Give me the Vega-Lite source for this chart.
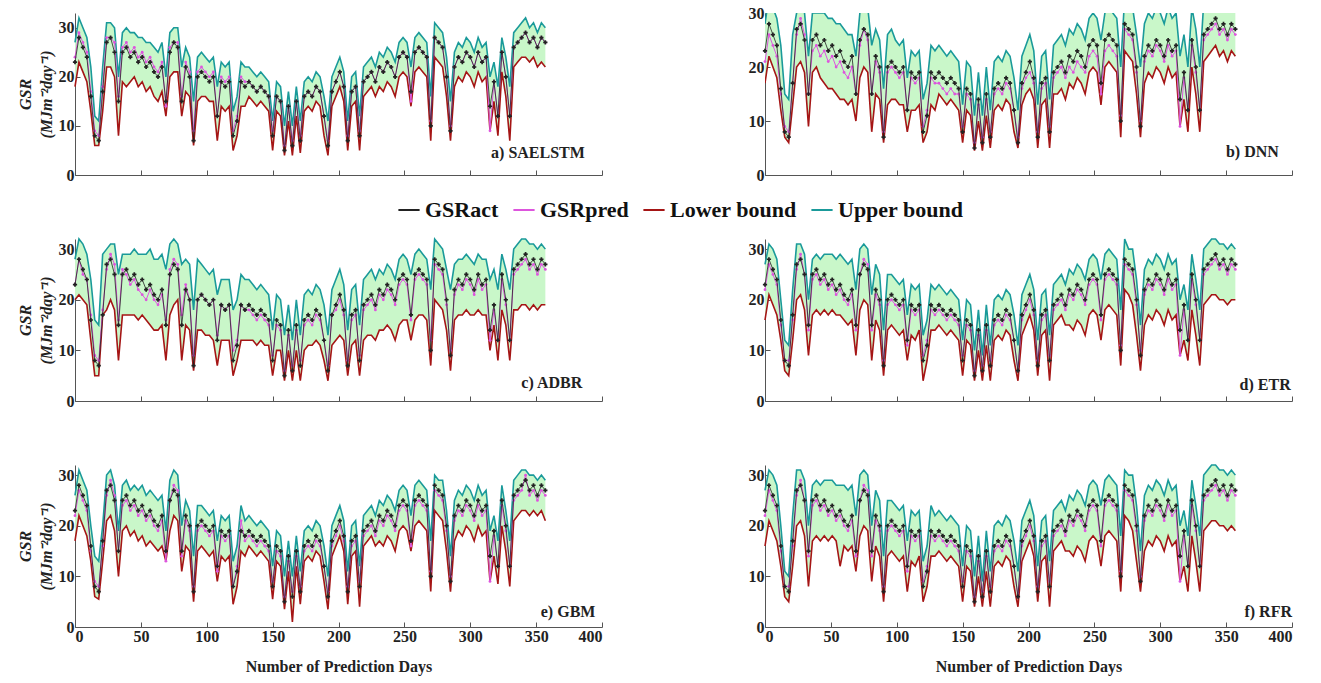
{
"$schema":"https://vega.github.io/schema/vega-lite/v6.json",
"background":"white",
"padding":{"left":17,"top":5,"right":5,"bottom":5},
"config":{"view":{"stroke":null},
"axis":{"grid":false,"labelFont":"Liberation Serif","labelFontWeight":"bold","labelFontSize":16,"labelColor":"#222","domainColor":"#555","tickColor":"#555","tickSize":-5,"labelPadding":6,"titleFont":"Liberation Serif","titleFontWeight":"bold","titleFontSize":16,"titleColor":"#222"},
"legend":{"orient":"none","legendX":322,"legendY":185,"direction":"horizontal","title":null,"symbolType":"stroke","symbolStrokeWidth":2,"symbolSize":450,"labelFont":"Liberation Serif","labelFontWeight":"bold","labelFontSize":22,"labelColor":"#111","columnPadding":10,"labelLimit":300}},
"datasets":{"t":[
{"d":0,"g":23,"ap":24,"al":18,"au":27,"bp":21,"bl":17,"bu":28,"cp":23,"cl":20,"cu":28,"dp":22,"dl":16,"du":27,"ep":22,"el":17,"eu":26,"fp":22,"fl":16,"fu":27},
{"d":3,"g":28,"ap":29,"al":23,"au":32,"bp":26,"bl":22,"bu":33,"cp":28,"cl":21,"cu":32,"dp":27,"dl":21,"du":31,"ep":27,"el":22,"eu":31,"fp":27,"fl":21,"fu":31},
{"d":6,"g":26,"ap":27,"al":21,"au":30,"bp":24,"bl":20,"bu":31,"cp":25,"cl":20,"cu":31,"dp":25,"dl":19,"du":30,"ep":25,"el":20,"eu":29,"fp":25,"fl":19,"fu":30},
{"d":9,"g":24,"ap":25,"al":19,"au":28,"bp":22,"bl":18,"bu":29,"cp":24,"cl":19,"cu":29,"dp":23,"dl":17,"du":28,"ep":23,"el":18,"eu":27,"fp":23,"fl":17,"fu":28},
{"d":12,"g":16,"ap":17,"al":13,"au":22,"bp":15,"bl":12,"bu":24,"cp":17,"cl":12,"cu":24,"dp":15,"dl":12,"du":20,"ep":15,"el":13,"eu":20,"fp":15,"fl":12,"fu":20},
{"d":15,"g":8,"ap":9,"al":6,"au":12,"bp":9,"bl":7,"bu":15,"cp":9,"cl":5,"cu":16,"dp":8,"dl":6,"du":12,"ep":9,"el":6,"eu":14,"fp":8,"fl":6,"fu":11},
{"d":18,"g":7,"ap":8,"al":6,"au":11,"bp":8,"bl":6,"bu":14,"cp":8,"cl":5,"cu":15,"dp":8,"dl":5,"du":11,"ep":8,"el":5.5,"eu":13,"fp":8,"fl":5,"fu":10},
{"d":21,"g":17,"ap":18,"al":13,"au":22,"bp":17,"bl":13,"bu":26,"cp":18,"cl":17,"cu":29,"dp":16,"dl":12,"du":22,"ep":16,"el":13,"eu":20,"fp":16,"fl":12,"fu":22},
{"d":24,"g":27,"ap":28,"al":22,"au":31,"bp":26,"bl":20,"bu":30,"cp":26,"cl":18,"cu":30,"dp":26,"dl":20,"du":31,"ep":26,"el":21,"eu":30,"fp":26,"fl":20,"fu":31},
{"d":27,"g":28,"ap":28,"al":22,"au":31,"bp":29,"bl":21,"bu":31,"cp":29,"cl":20,"cu":31,"dp":29,"dl":21,"du":31,"ep":29,"el":22,"eu":31,"fp":29,"fl":21,"fu":31},
{"d":30,"g":25,"ap":27,"al":20,"au":30,"bp":26,"bl":19,"bu":30,"cp":27,"cl":18,"cu":31,"dp":25,"dl":18,"du":29,"ep":26,"el":19,"eu":28,"fp":25,"fl":18,"fu":29},
{"d":33,"g":15,"ap":16,"al":8,"au":20,"bp":15,"bl":9,"bu":22,"cp":16,"cl":8,"cu":25,"dp":14,"dl":9,"du":20,"ep":15,"el":10,"eu":19,"fp":14,"fl":8,"fu":20},
{"d":36,"g":25,"ap":26,"al":19,"au":29,"bp":23,"bl":19,"bu":30,"cp":26,"cl":17,"cu":29,"dp":24,"dl":17,"du":28,"ep":24,"el":19,"eu":28,"fp":24,"fl":17,"fu":28},
{"d":39,"g":26,"ap":27,"al":18,"au":30,"bp":24,"bl":20,"bu":30,"cp":25,"cl":17,"cu":29,"dp":25,"dl":18,"du":29,"ep":25,"el":20,"eu":29,"fp":25,"fl":18,"fu":29},
{"d":42,"g":24,"ap":25,"al":19,"au":29,"bp":22,"bl":18,"bu":30,"cp":23,"cl":17,"cu":29,"dp":23,"dl":17,"du":28,"ep":23,"el":18,"eu":27,"fp":23,"fl":17,"fu":28},
{"d":45,"g":25,"ap":26,"al":20,"au":29,"bp":23,"bl":17,"bu":30,"cp":24,"cl":17,"cu":30,"dp":24,"dl":18,"du":29,"ep":24,"el":19,"eu":28,"fp":24,"fl":18,"fu":29},
{"d":48,"g":23,"ap":24,"al":18,"au":28,"bp":21,"bl":16,"bu":29,"cp":22,"cl":16,"cu":29,"dp":22,"dl":17,"du":29,"ep":22,"el":17,"eu":27,"fp":22,"fl":17,"fu":29},
{"d":51,"g":24,"ap":25,"al":19,"au":28,"bp":22,"bl":16,"bu":29,"cp":21,"cl":17,"cu":29,"dp":23,"dl":18,"du":29,"ep":23,"el":18,"eu":28,"fp":23,"fl":18,"fu":29},
{"d":54,"g":22,"ap":23,"al":17,"au":27,"bp":20,"bl":15,"bu":28,"cp":20,"cl":16,"cu":29,"dp":21,"dl":17,"du":28,"ep":21,"el":16,"eu":26,"fp":21,"fl":17,"fu":28},
{"d":57,"g":23,"ap":24,"al":18,"au":27,"bp":21,"bl":14,"bu":28,"cp":22,"cl":15,"cu":30,"dp":22,"dl":17,"du":29,"ep":22,"el":17,"eu":27,"fp":22,"fl":12,"fu":28},
{"d":60,"g":21,"ap":22,"al":16,"au":26,"bp":19,"bl":14,"bu":27,"cp":20,"cl":14,"cu":28,"dp":20,"dl":16,"du":28,"ep":20,"el":16,"eu":26,"fp":20,"fl":16,"fu":28},
{"d":63,"g":20,"ap":21,"al":15,"au":25,"bp":18,"bl":13,"bu":26,"cp":19,"cl":14,"cu":28,"dp":19,"dl":15,"du":27,"ep":19,"el":15,"eu":25,"fp":19,"fl":15,"fu":27},
{"d":66,"g":22,"ap":23,"al":17,"au":27,"bp":20,"bl":14,"bu":26,"cp":21,"cl":15,"cu":29,"dp":21,"dl":16,"du":28,"ep":21,"el":16,"eu":26,"fp":21,"fl":16,"fu":28},
{"d":69,"g":15,"ap":14,"al":12,"au":20,"bp":15,"bl":10,"bu":22,"cp":16,"cl":8,"cu":26,"dp":14,"dl":9,"du":22,"ep":13,"el":13,"eu":19,"fp":14,"fl":11,"fu":22},
{"d":72,"g":25,"ap":26,"al":20,"au":29,"bp":24,"bl":18,"bu":30,"cp":26,"cl":17,"cu":31,"dp":25,"dl":18,"du":30,"ep":25,"el":19,"eu":29,"fp":25,"fl":18,"fu":30},
{"d":75,"g":27,"ap":27,"al":21,"au":30,"bp":27,"bl":20,"bu":31,"cp":28,"cl":19,"cu":32,"dp":28,"dl":20,"du":31,"ep":28,"el":22,"eu":31,"fp":28,"fl":20,"fu":31},
{"d":78,"g":26,"ap":27,"al":21,"au":30,"bp":25,"bl":19,"bu":31,"cp":27,"cl":20,"cu":31,"dp":27,"dl":19,"du":30,"ep":27,"el":21,"eu":30,"fp":27,"fl":19,"fu":30},
{"d":81,"g":15,"ap":16,"al":12,"au":22,"bp":15,"bl":8,"bu":24,"cp":17,"cl":8,"cu":27,"dp":14,"dl":8,"du":21,"ep":14,"el":11,"eu":20,"fp":14,"fl":9,"fu":20},
{"d":84,"g":22,"ap":23,"al":17,"au":26,"bp":21,"bl":15,"bu":27,"cp":23,"cl":15,"cu":28,"dp":21,"dl":16,"du":27,"ep":21,"el":16,"eu":25,"fp":21,"fl":16,"fu":27},
{"d":87,"g":20,"ap":21,"al":16,"au":24,"bp":19,"bl":14,"bu":25,"cp":20,"cl":14,"cu":27,"dp":19,"dl":14,"du":25,"ep":19,"el":15,"eu":23,"fp":19,"fl":14,"fu":25},
{"d":90,"g":7,"ap":9,"al":6,"au":15,"bp":8,"bl":6,"bu":16,"cp":9,"cl":6,"cu":18,"dp":8,"dl":5,"du":14,"ep":8,"el":5,"eu":14,"fp":8,"fl":5,"fu":14},
{"d":93,"g":20,"ap":21,"al":15,"au":24,"bp":19,"bl":13,"bu":26,"cp":20,"cl":14,"cu":28,"dp":19,"dl":14,"du":25,"ep":19,"el":15,"eu":24,"fp":19,"fl":14,"fu":25},
{"d":96,"g":21,"ap":22,"al":16,"au":25,"bp":20,"bl":14,"bu":27,"cp":21,"cl":14,"cu":27,"dp":20,"dl":15,"du":25,"ep":20,"el":16,"eu":24,"fp":20,"fl":15,"fu":25},
{"d":99,"g":20,"ap":21,"al":16,"au":24,"bp":19,"bl":14,"bu":25,"cp":20,"cl":13,"cu":26,"dp":19,"dl":14,"du":24,"ep":19,"el":15,"eu":23,"fp":19,"fl":14,"fu":24},
{"d":102,"g":19,"ap":20,"al":15,"au":23,"bp":18,"bl":13,"bu":24,"cp":19,"cl":13,"cu":25,"dp":18,"dl":13,"du":23,"ep":18,"el":14,"eu":22,"fp":18,"fl":13,"fu":23},
{"d":105,"g":20,"ap":21,"al":15,"au":24,"bp":19,"bl":13,"bu":25,"cp":20,"cl":12,"cu":26,"dp":19,"dl":14,"du":24,"ep":19,"el":15,"eu":23,"fp":19,"fl":14,"fu":24},
{"d":108,"g":12,"ap":12,"al":7,"au":18,"bp":12,"bl":8,"bu":18,"cp":13,"cl":7,"cu":21,"dp":11,"dl":8,"du":17,"ep":11,"el":9,"eu":17,"fp":11,"fl":7,"fu":17},
{"d":111,"g":19,"ap":20,"al":14,"au":23,"bp":18,"bl":12,"bu":23,"cp":19,"cl":12,"cu":24,"dp":18,"dl":13,"du":23,"ep":18,"el":14,"eu":22,"fp":18,"fl":13,"fu":23},
{"d":114,"g":18,"ap":19,"al":13,"au":22,"bp":17,"bl":12,"bu":22,"cp":18,"cl":12,"cu":24,"dp":17,"dl":12,"du":22,"ep":17,"el":13,"eu":21,"fp":17,"fl":12,"fu":22},
{"d":117,"g":19,"ap":20,"al":14,"au":23,"bp":18,"bl":13,"bu":23,"cp":19,"cl":12,"cu":24,"dp":18,"dl":14,"du":23,"ep":18,"el":14,"eu":22,"fp":18,"fl":14,"fu":23},
{"d":120,"g":8,"ap":9,"al":5,"au":13,"bp":9,"bl":6,"bu":14,"cp":10,"cl":5,"cu":18,"dp":9,"dl":4,"du":13,"ep":8,"el":4.5,"eu":13,"fp":9,"fl":5,"fu":13},
{"d":123,"g":11,"ap":12,"al":8,"au":16,"bp":12,"bl":8,"bu":17,"cp":12,"cl":8,"cu":20,"dp":12,"dl":8,"du":16,"ep":12,"el":8,"eu":16,"fp":12,"fl":8,"fu":16},
{"d":126,"g":19,"ap":20,"al":14,"au":23,"bp":18,"bl":13,"bu":24,"cp":19,"cl":12,"cu":25,"dp":18,"dl":14,"du":23,"ep":21,"el":15,"eu":24,"fp":18,"fl":14,"fu":24},
{"d":129,"g":18,"ap":19,"al":14,"au":22,"bp":17,"bl":12,"bu":23,"cp":18,"cl":12,"cu":24,"dp":17,"dl":14,"du":22,"ep":17,"el":14,"eu":21,"fp":17,"fl":14,"fu":22},
{"d":132,"g":19,"ap":19,"al":16,"au":22,"bp":17,"bl":15,"bu":24,"cp":18,"cl":12,"cu":24,"dp":18,"dl":15,"du":23,"ep":18,"el":16,"eu":22,"fp":18,"fl":15,"fu":23},
{"d":135,"g":18,"ap":18,"al":15,"au":21,"bp":16,"bl":14,"bu":23,"cp":17,"cl":12,"cu":23,"dp":17,"dl":14,"du":22,"ep":17,"el":15,"eu":21,"fp":17,"fl":14,"fu":22},
{"d":138,"g":17,"ap":17,"al":14,"au":20,"bp":15,"bl":13,"bu":22,"cp":16,"cl":11,"cu":22,"dp":16,"dl":13,"du":21,"ep":16,"el":14,"eu":20,"fp":16,"fl":13,"fu":21},
{"d":141,"g":18,"ap":18,"al":15,"au":21,"bp":16,"bl":14,"bu":23,"cp":17,"cl":12,"cu":23,"dp":17,"dl":14,"du":22,"ep":17,"el":15,"eu":21,"fp":17,"fl":14,"fu":22},
{"d":144,"g":17,"ap":17,"al":14,"au":20,"bp":15,"bl":13,"bu":22,"cp":16,"cl":11,"cu":22,"dp":16,"dl":13,"du":21,"ep":16,"el":14,"eu":20,"fp":16,"fl":13,"fu":21},
{"d":147,"g":16,"ap":16,"al":13,"au":19,"bp":15,"bl":12,"bu":21,"cp":15,"cl":11,"cu":21,"dp":15,"dl":12,"du":20,"ep":15,"el":13,"eu":19,"fp":15,"fl":12,"fu":20},
{"d":150,"g":8,"ap":9,"al":5,"au":11,"bp":9,"bl":6,"bu":13,"cp":9,"cl":5,"cu":14,"dp":9,"dl":5,"du":12,"ep":9,"el":5.5,"eu":12,"fp":9,"fl":5,"fu":12},
{"d":153,"g":16,"ap":16,"al":13,"au":19,"bp":15,"bl":12,"bu":21,"cp":15,"cl":10,"cu":21,"dp":15,"dl":12,"du":20,"ep":15,"el":13,"eu":19,"fp":15,"fl":12,"fu":20},
{"d":156,"g":15,"ap":15,"al":12,"au":18,"bp":14,"bl":11,"bu":20,"cp":14,"cl":10,"cu":20,"dp":14,"dl":11,"du":19,"ep":14,"el":12,"eu":18,"fp":14,"fl":11,"fu":19},
{"d":159,"g":5,"ap":6,"al":4,"au":10,"bp":6,"bl":4.5,"bu":11,"cp":6,"cl":4,"cu":13,"dp":6,"dl":4,"du":10,"ep":6,"el":3.5,"eu":10,"fp":6,"fl":4,"fu":10},
{"d":162,"g":14,"ap":14,"al":11,"au":17,"bp":13,"bl":10,"bu":19,"cp":13,"cl":10,"cu":19,"dp":13,"dl":10,"du":18,"ep":13,"el":11,"eu":17,"fp":13,"fl":10,"fu":18},
{"d":165,"g":6,"ap":7,"al":4,"au":10,"bp":7,"bl":4.5,"bu":11,"cp":7,"cl":4,"cu":12,"dp":7,"dl":4,"du":9,"ep":7,"el":1,"eu":10,"fp":7,"fl":4,"fu":9},
{"d":168,"g":15,"ap":15,"al":12,"au":18,"bp":14,"bl":11,"bu":20,"cp":14,"cl":10,"cu":20,"dp":14,"dl":11,"du":19,"ep":14,"el":12,"eu":18,"fp":14,"fl":11,"fu":19},
{"d":171,"g":7,"ap":8,"al":4.5,"au":11,"bp":8,"bl":5,"bu":12,"cp":8,"cl":4,"cu":13,"dp":8,"dl":4,"du":11,"ep":8,"el":4.5,"eu":11,"fp":8,"fl":4,"fu":11},
{"d":174,"g":16,"ap":16,"al":13,"au":19,"bp":15,"bl":12,"bu":21,"cp":15,"cl":10,"cu":21,"dp":15,"dl":12,"du":20,"ep":15,"el":13,"eu":19,"fp":15,"fl":12,"fu":20},
{"d":177,"g":17,"ap":17,"al":14,"au":20,"bp":16,"bl":13,"bu":22,"cp":16,"cl":11,"cu":22,"dp":16,"dl":13,"du":21,"ep":16,"el":14,"eu":20,"fp":16,"fl":13,"fu":21},
{"d":180,"g":16,"ap":16,"al":13,"au":19,"bp":15,"bl":12,"bu":21,"cp":15,"cl":11,"cu":21,"dp":15,"dl":12,"du":20,"ep":15,"el":13,"eu":19,"fp":15,"fl":12,"fu":20},
{"d":183,"g":18,"ap":18,"al":15,"au":21,"bp":17,"bl":14,"bu":23,"cp":17,"cl":12,"cu":23,"dp":17,"dl":14,"du":22,"ep":17,"el":15,"eu":21,"fp":17,"fl":14,"fu":22},
{"d":186,"g":17,"ap":17,"al":14,"au":20,"bp":16,"bl":13,"bu":22,"cp":16,"cl":11,"cu":22,"dp":16,"dl":13,"du":21,"ep":16,"el":14,"eu":20,"fp":16,"fl":13,"fu":21},
{"d":189,"g":12,"ap":12,"al":8,"au":16,"bp":12,"bl":8,"bu":18,"cp":12,"cl":8,"cu":19,"dp":12,"dl":8,"du":17,"ep":12,"el":9,"eu":16,"fp":12,"fl":8,"fu":17},
{"d":192,"g":6,"ap":7,"al":4,"au":11,"bp":7,"bl":5,"bu":12,"cp":7,"cl":4,"cu":13,"dp":6,"dl":4,"du":11,"ep":7,"el":3.5,"eu":10,"fp":6,"fl":4,"fu":11},
{"d":195,"g":17,"ap":17,"al":14,"au":20,"bp":16,"bl":13,"bu":22,"cp":17,"cl":11,"cu":22,"dp":16,"dl":13,"du":21,"ep":16,"el":14,"eu":20,"fp":16,"fl":13,"fu":21},
{"d":198,"g":19,"ap":19,"al":16,"au":22,"bp":18,"bl":15,"bu":24,"cp":18,"cl":12,"cu":24,"dp":18,"dl":15,"du":23,"ep":18,"el":16,"eu":22,"fp":18,"fl":15,"fu":23},
{"d":201,"g":21,"ap":21,"al":18,"au":24,"bp":19,"bl":16,"bu":26,"cp":20,"cl":13,"cu":26,"dp":20,"dl":17,"du":25,"ep":20,"el":18,"eu":24,"fp":20,"fl":17,"fu":25},
{"d":204,"g":18,"ap":18,"al":15,"au":21,"bp":17,"bl":14,"bu":23,"cp":17,"cl":12,"cu":23,"dp":17,"dl":14,"du":22,"ep":17,"el":15,"eu":21,"fp":17,"fl":14,"fu":22},
{"d":207,"g":7,"ap":8,"al":5,"au":11,"bp":8,"bl":5,"bu":13,"cp":8,"cl":5,"cu":14,"dp":8,"dl":5,"du":12,"ep":8,"el":4.5,"eu":11,"fp":8,"fl":5,"fu":12},
{"d":210,"g":17,"ap":17,"al":14,"au":20,"bp":16,"bl":13,"bu":22,"cp":16,"cl":11,"cu":22,"dp":16,"dl":13,"du":21,"ep":16,"el":14,"eu":20,"fp":16,"fl":13,"fu":21},
{"d":213,"g":18,"ap":18,"al":15,"au":21,"bp":17,"bl":14,"bu":23,"cp":17,"cl":12,"cu":23,"dp":17,"dl":14,"du":22,"ep":17,"el":15,"eu":21,"fp":17,"fl":14,"fu":22},
{"d":216,"g":8,"ap":9,"al":5,"au":12,"bp":9,"bl":5,"bu":14,"cp":9,"cl":5,"cu":15,"dp":9,"dl":4,"du":13,"ep":9,"el":4,"eu":12,"fp":9,"fl":4,"fu":13},
{"d":219,"g":19,"ap":19,"al":16,"au":22,"bp":18,"bl":15,"bu":24,"cp":18,"cl":12,"cu":24,"dp":18,"dl":15,"du":23,"ep":18,"el":16,"eu":22,"fp":18,"fl":15,"fu":23},
{"d":222,"g":20,"ap":20,"al":17,"au":23,"bp":19,"bl":15,"bu":25,"cp":19,"cl":13,"cu":25,"dp":19,"dl":16,"du":24,"ep":19,"el":17,"eu":23,"fp":19,"fl":16,"fu":24},
{"d":225,"g":21,"ap":21,"al":18,"au":24,"bp":20,"bl":16,"bu":26,"cp":20,"cl":13,"cu":26,"dp":20,"dl":17,"du":25,"ep":20,"el":18,"eu":24,"fp":20,"fl":17,"fu":25},
{"d":228,"g":19,"ap":19,"al":16,"au":22,"bp":18,"bl":14,"bu":24,"cp":18,"cl":12,"cu":24,"dp":18,"dl":15,"du":23,"ep":18,"el":16,"eu":22,"fp":18,"fl":15,"fu":23},
{"d":231,"g":22,"ap":22,"al":18,"au":25,"bp":20,"bl":17,"bu":27,"cp":21,"cl":14,"cu":26,"dp":21,"dl":15,"du":26,"ep":21,"el":17,"eu":25,"fp":21,"fl":15,"fu":26},
{"d":234,"g":21,"ap":21,"al":17,"au":24,"bp":19,"bl":16,"bu":26,"cp":20,"cl":14,"cu":25,"dp":20,"dl":14,"du":25,"ep":20,"el":16,"eu":24,"fp":20,"fl":14,"fu":25},
{"d":237,"g":23,"ap":23,"al":19,"au":26,"bp":21,"bl":18,"bu":28,"cp":22,"cl":15,"cu":27,"dp":22,"dl":16,"du":27,"ep":22,"el":18,"eu":26,"fp":22,"fl":16,"fu":27},
{"d":240,"g":22,"ap":22,"al":18,"au":25,"bp":20,"bl":17,"bu":27,"cp":21,"cl":14,"cu":26,"dp":21,"dl":15,"du":26,"ep":21,"el":17,"eu":25,"fp":21,"fl":15,"fu":26},
{"d":243,"g":20,"ap":20,"al":16,"au":23,"bp":19,"bl":15,"bu":25,"cp":19,"cl":12,"cu":24,"dp":19,"dl":13,"du":24,"ep":19,"el":15,"eu":23,"fp":19,"fl":13,"fu":24},
{"d":246,"g":24,"ap":24,"al":20,"au":27,"bp":22,"bl":19,"bu":29,"cp":23,"cl":15,"cu":28,"dp":23,"dl":17,"du":28,"ep":23,"el":19,"eu":27,"fp":23,"fl":17,"fu":28},
{"d":249,"g":25,"ap":25,"al":21,"au":28,"bp":23,"bl":20,"bu":30,"cp":24,"cl":16,"cu":29,"dp":24,"dl":18,"du":29,"ep":24,"el":20,"eu":28,"fp":24,"fl":18,"fu":29},
{"d":252,"g":24,"ap":24,"al":20,"au":27,"bp":22,"bl":19,"bu":29,"cp":23,"cl":16,"cu":28,"dp":23,"dl":17,"du":28,"ep":23,"el":19,"eu":27,"fp":23,"fl":17,"fu":28},
{"d":255,"g":17,"ap":15,"al":14,"au":22,"bp":15,"bl":13,"bu":25,"cp":16,"cl":12,"cu":25,"dp":16,"dl":12,"du":24,"ep":16,"el":15,"eu":22,"fp":16,"fl":12,"fu":24},
{"d":258,"g":25,"ap":25,"al":21,"au":28,"bp":23,"bl":20,"bu":30,"cp":24,"cl":16,"cu":29,"dp":24,"dl":18,"du":29,"ep":24,"el":20,"eu":28,"fp":24,"fl":18,"fu":29},
{"d":261,"g":26,"ap":26,"al":22,"au":29,"bp":24,"bl":21,"bu":31,"cp":25,"cl":17,"cu":30,"dp":25,"dl":19,"du":30,"ep":25,"el":21,"eu":29,"fp":25,"fl":19,"fu":30},
{"d":264,"g":25,"ap":25,"al":21,"au":28,"bp":23,"bl":20,"bu":30,"cp":24,"cl":17,"cu":29,"dp":24,"dl":18,"du":29,"ep":24,"el":20,"eu":28,"fp":24,"fl":18,"fu":29},
{"d":267,"g":24,"ap":24,"al":20,"au":27,"bp":22,"bl":19,"bu":29,"cp":23,"cl":16,"cu":28,"dp":23,"dl":17,"du":28,"ep":23,"el":19,"eu":27,"fp":23,"fl":17,"fu":28},
{"d":270,"g":10,"ap":11,"al":7,"au":16,"bp":11,"bl":7,"bu":20,"cp":12,"cl":7,"cu":22,"dp":11,"dl":7,"du":18,"ep":11,"el":7,"eu":17,"fp":11,"fl":7,"fu":18},
{"d":273,"g":28,"ap":28,"al":24,"au":31,"bp":27,"bl":23,"bu":33,"cp":27,"cl":20,"cu":32,"dp":27,"dl":22,"du":32,"ep":27,"el":23,"eu":30,"fp":27,"fl":22,"fu":31},
{"d":276,"g":27,"ap":27,"al":23,"au":30,"bp":26,"bl":22,"bu":32,"cp":26,"cl":19,"cu":31,"dp":26,"dl":21,"du":30,"ep":26,"el":22,"eu":29,"fp":26,"fl":21,"fu":30},
{"d":279,"g":26,"ap":26,"al":22,"au":29,"bp":25,"bl":21,"bu":31,"cp":25,"cl":18,"cu":30,"dp":25,"dl":19,"du":30,"ep":25,"el":21,"eu":29,"fp":25,"fl":19,"fu":30},
{"d":282,"g":20,"ap":20,"al":16,"au":24,"bp":19,"bl":15,"bu":26,"cp":19,"cl":14,"cu":26,"dp":19,"dl":13,"du":24,"ep":19,"el":15,"eu":23,"fp":19,"fl":13,"fu":24},
{"d":285,"g":9,"ap":10,"al":7,"au":15,"bp":10,"bl":7,"bu":20,"cp":10,"cl":6,"cu":22,"dp":10,"dl":6,"du":15,"ep":10,"el":7,"eu":14,"fp":10,"fl":7,"fu":15},
{"d":288,"g":22,"ap":22,"al":18,"au":25,"bp":21,"bl":17,"bu":28,"cp":21,"cl":16,"cu":27,"dp":21,"dl":15,"du":26,"ep":21,"el":17,"eu":25,"fp":21,"fl":15,"fu":26},
{"d":291,"g":24,"ap":24,"al":20,"au":27,"bp":23,"bl":19,"bu":30,"cp":23,"cl":17,"cu":28,"dp":23,"dl":17,"du":28,"ep":23,"el":19,"eu":27,"fp":23,"fl":17,"fu":28},
{"d":294,"g":23,"ap":23,"al":19,"au":26,"bp":22,"bl":18,"bu":29,"cp":22,"cl":17,"cu":28,"dp":22,"dl":16,"du":27,"ep":22,"el":18,"eu":26,"fp":22,"fl":16,"fu":27},
{"d":297,"g":25,"ap":25,"al":21,"au":28,"bp":24,"bl":20,"bu":31,"cp":24,"cl":18,"cu":29,"dp":24,"dl":18,"du":29,"ep":24,"el":20,"eu":28,"fp":24,"fl":18,"fu":29},
{"d":300,"g":24,"ap":24,"al":20,"au":27,"bp":23,"bl":19,"bu":30,"cp":23,"cl":17,"cu":28,"dp":23,"dl":17,"du":28,"ep":23,"el":19,"eu":27,"fp":23,"fl":17,"fu":28},
{"d":303,"g":22,"ap":22,"al":18,"au":25,"bp":21,"bl":17,"bu":28,"cp":21,"cl":17,"cu":27,"dp":21,"dl":15,"du":26,"ep":21,"el":17,"eu":25,"fp":21,"fl":15,"fu":26},
{"d":306,"g":25,"ap":25,"al":21,"au":28,"bp":24,"bl":20,"bu":31,"cp":24,"cl":18,"cu":29,"dp":24,"dl":18,"du":29,"ep":24,"el":20,"eu":28,"fp":24,"fl":18,"fu":29},
{"d":309,"g":23,"ap":23,"al":19,"au":26,"bp":22,"bl":18,"bu":29,"cp":22,"cl":17,"cu":28,"dp":22,"dl":16,"du":27,"ep":22,"el":18,"eu":26,"fp":22,"fl":16,"fu":27},
{"d":312,"g":24,"ap":24,"al":20,"au":27,"bp":23,"bl":19,"bu":30,"cp":23,"cl":17,"cu":28,"dp":23,"dl":17,"du":28,"ep":23,"el":19,"eu":27,"fp":23,"fl":17,"fu":28},
{"d":315,"g":14,"ap":9,"al":9,"au":20,"bp":9,"bl":9,"bu":22,"cp":12,"cl":10,"cu":24,"dp":9,"dl":9,"du":20,"ep":9,"el":9,"eu":19,"fp":9,"fl":9,"fu":20},
{"d":318,"g":19,"ap":19,"al":15,"au":23,"bp":18,"bl":14,"bu":26,"cp":18,"cl":15,"cu":26,"dp":18,"dl":12,"du":23,"ep":18,"el":14,"eu":22,"fp":18,"fl":12,"fu":23},
{"d":321,"g":12,"ap":12,"al":8,"au":18,"bp":12,"bl":8,"bu":20,"cp":12,"cl":8,"cu":22,"dp":12,"dl":8,"du":18,"ep":12,"el":8.5,"eu":17,"fp":12,"fl":7,"fu":18},
{"d":324,"g":25,"ap":25,"al":21,"au":28,"bp":24,"bl":20,"bu":31,"cp":24,"cl":18,"cu":29,"dp":24,"dl":18,"du":29,"ep":24,"el":20,"eu":28,"fp":24,"fl":18,"fu":29},
{"d":327,"g":20,"ap":20,"al":16,"au":24,"bp":19,"bl":15,"bu":27,"cp":19,"cl":15,"cu":26,"dp":19,"dl":13,"du":24,"ep":19,"el":15,"eu":23,"fp":19,"fl":13,"fu":24},
{"d":330,"g":12,"ap":12,"al":7,"au":18,"bp":12,"bl":8,"bu":20,"cp":12,"cl":8,"cu":22,"dp":12,"dl":7,"du":18,"ep":12,"el":8,"eu":17,"fp":12,"fl":7,"fu":18},
{"d":333,"g":26,"ap":26,"al":22,"au":29,"bp":25,"bl":21,"bu":32,"cp":25,"cl":18,"cu":30,"dp":25,"dl":19,"du":30,"ep":25,"el":21,"eu":29,"fp":25,"fl":19,"fu":30},
{"d":336,"g":27,"ap":27,"al":23,"au":30,"bp":26,"bl":22,"bu":33,"cp":26,"cl":18,"cu":31,"dp":26,"dl":20,"du":31,"ep":26,"el":22,"eu":30,"fp":26,"fl":20,"fu":31},
{"d":339,"g":28,"ap":28,"al":24,"au":31,"bp":27,"bl":23,"bu":33,"cp":27,"cl":19,"cu":32,"dp":27,"dl":21,"du":32,"ep":27,"el":23,"eu":31,"fp":27,"fl":21,"fu":32},
{"d":342,"g":29,"ap":29,"al":24,"au":32,"bp":28,"bl":24,"bu":34,"cp":28,"cl":19,"cu":32,"dp":28,"dl":21,"du":32,"ep":30,"el":23,"eu":31,"fp":28,"fl":21,"fu":32},
{"d":345,"g":27,"ap":27,"al":23,"au":30,"bp":26,"bl":22,"bu":33,"cp":26,"cl":18,"cu":31,"dp":26,"dl":20,"du":31,"ep":26,"el":22,"eu":30,"fp":26,"fl":20,"fu":31},
{"d":348,"g":28,"ap":28,"al":24,"au":31,"bp":27,"bl":23,"bu":33,"cp":27,"cl":19,"cu":31,"dp":27,"dl":20,"du":31,"ep":27,"el":23,"eu":30,"fp":27,"fl":20,"fu":31},
{"d":351,"g":26,"ap":26,"al":22,"au":29,"bp":25,"bl":21,"bu":32,"cp":25,"cl":18,"cu":30,"dp":25,"dl":19,"du":30,"ep":25,"el":22,"eu":29,"fp":25,"fl":19,"fu":30},
{"d":354,"g":28,"ap":28,"al":23,"au":31,"bp":27,"bl":23,"bu":33,"cp":27,"cl":19,"cu":31,"dp":27,"dl":20,"du":31,"ep":27,"el":23,"eu":30,"fp":27,"fl":20,"fu":31},
{"d":357,"g":27,"ap":27,"al":22,"au":30,"bp":26,"bl":22,"bu":32,"cp":26,"cl":19,"cu":30,"dp":26,"dl":20,"du":30,"ep":26,"el":21,"eu":29,"fp":26,"fl":19,"fu":30}
]},
"spacing":52,
"vconcat":[
{"hconcat":[
{"width":527,"height":162,"data":{"name":"t"},
"encoding":{"x":{"field":"d","type":"quantitative","scale":{"domain":[0,400],"nice":false},"axis":{"values":[0,50,100,150,200,250,300,350,400],"labels":false,"title":null}}},
"layer":[
{"mark":{"type":"area","color":"#c9f7c9"},"encoding":{"y":{"field":"al","type":"quantitative","scale":{"domain":[0,33],"nice":false},"axis":{"values":[0,10,20,30],"title":["GSR","(MJm⁻²day⁻¹)"],"titleFontStyle":"italic","titlePadding":4,"titleLineHeight":21}},"y2":{"field":"au"}}},
{"mark":{"type":"line","strokeWidth":1.6},"encoding":{"y":{"field":"al","type":"quantitative"},"color":{"datum":"Lower bound","scale":{"domain":["GSRact","GSRpred","Lower bound","Upper bound"],"range":["#222222","#dd55dd","#a51515","#1a9a9a"]}}}},
{"mark":{"type":"line","strokeWidth":1.6},"encoding":{"y":{"field":"au","type":"quantitative"},"color":{"datum":"Upper bound"}}},
{"mark":{"type":"line","strokeWidth":1,"point":{"size":8,"filled":true}},"encoding":{"y":{"field":"ap","type":"quantitative"},"color":{"datum":"GSRpred"}}},
{"mark":{"type":"line","strokeWidth":0.8,"point":{"shape":"cross","size":18,"filled":true}},"encoding":{"y":{"field":"g","type":"quantitative"},"color":{"datum":"GSRact"}}},
{"data":{"values":[{"lab":"a) SAELSTM","x":387,"y":4.5}]},"mark":{"type":"text","font":"Liberation Serif","fontWeight":"bold","fontSize":16,"align":"right","baseline":"middle","color":"#222"},"encoding":{"x":{"field":"x","type":"quantitative"},"y":{"field":"y","type":"quantitative"},"text":{"field":"lab"}}}
]},
{"width":527,"height":162,"data":{"name":"t"},
"encoding":{"x":{"field":"d","type":"quantitative","scale":{"domain":[0,400],"nice":false},"axis":{"values":[0,50,100,150,200,250,300,350,400],"labels":false,"title":null}}},
"layer":[
{"mark":{"type":"area","color":"#c9f7c9","clip":true},"encoding":{"y":{"field":"bl","type":"quantitative","scale":{"domain":[0,30],"nice":false},"axis":{"values":[0,10,20,30],"title":null}},"y2":{"field":"bu"}}},
{"mark":{"type":"line","strokeWidth":1.6,"clip":true},"encoding":{"y":{"field":"bl","type":"quantitative"},"color":{"datum":"Lower bound"}}},
{"mark":{"type":"line","strokeWidth":1.6,"clip":true},"encoding":{"y":{"field":"bu","type":"quantitative"},"color":{"datum":"Upper bound"}}},
{"mark":{"type":"line","strokeWidth":1,"point":{"size":8,"filled":true}},"encoding":{"y":{"field":"bp","type":"quantitative"},"color":{"datum":"GSRpred"}}},
{"mark":{"type":"line","strokeWidth":0.8,"point":{"shape":"cross","size":18,"filled":true}},"encoding":{"y":{"field":"g","type":"quantitative"},"color":{"datum":"GSRact"}}},
{"data":{"values":[{"lab":"b) DNN","x":390,"y":4.3}]},"mark":{"type":"text","font":"Liberation Serif","fontWeight":"bold","fontSize":16,"align":"right","baseline":"middle","color":"#222"},"encoding":{"x":{"field":"x","type":"quantitative"},"y":{"field":"y","type":"quantitative"},"text":{"field":"lab"}}}
]}
],"spacing":145},
{"hconcat":[
{"width":527,"height":162,"data":{"name":"t"},
"encoding":{"x":{"field":"d","type":"quantitative","scale":{"domain":[0,400],"nice":false},"axis":{"values":[0,50,100,150,200,250,300,350,400],"labels":false,"title":null}}},
"layer":[
{"mark":{"type":"area","color":"#c9f7c9"},"encoding":{"y":{"field":"cl","type":"quantitative","scale":{"domain":[0,32],"nice":false},"axis":{"values":[0,10,20,30],"title":["GSR","(MJm⁻²day⁻¹)"],"titleFontStyle":"italic","titlePadding":4,"titleLineHeight":21}},"y2":{"field":"cu"}}},
{"mark":{"type":"line","strokeWidth":1.6},"encoding":{"y":{"field":"cl","type":"quantitative"},"color":{"datum":"Lower bound"}}},
{"mark":{"type":"line","strokeWidth":1.6},"encoding":{"y":{"field":"cu","type":"quantitative"},"color":{"datum":"Upper bound"}}},
{"mark":{"type":"line","strokeWidth":1,"point":{"size":8,"filled":true}},"encoding":{"y":{"field":"cp","type":"quantitative"},"color":{"datum":"GSRpred"}}},
{"mark":{"type":"line","strokeWidth":0.8,"point":{"shape":"cross","size":18,"filled":true}},"encoding":{"y":{"field":"g","type":"quantitative"},"color":{"datum":"GSRact"}}},
{"data":{"values":[{"lab":"c) ADBR","x":385,"y":3.6}]},"mark":{"type":"text","font":"Liberation Serif","fontWeight":"bold","fontSize":16,"align":"right","baseline":"middle","color":"#222"},"encoding":{"x":{"field":"x","type":"quantitative"},"y":{"field":"y","type":"quantitative"},"text":{"field":"lab"}}}
]},
{"width":527,"height":162,"data":{"name":"t"},
"encoding":{"x":{"field":"d","type":"quantitative","scale":{"domain":[0,400],"nice":false},"axis":{"values":[0,50,100,150,200,250,300,350,400],"labels":false,"title":null}}},
"layer":[
{"mark":{"type":"area","color":"#c9f7c9"},"encoding":{"y":{"field":"dl","type":"quantitative","scale":{"domain":[0,32],"nice":false},"axis":{"values":[0,10,20,30],"title":null}},"y2":{"field":"du"}}},
{"mark":{"type":"line","strokeWidth":1.6},"encoding":{"y":{"field":"dl","type":"quantitative"},"color":{"datum":"Lower bound"}}},
{"mark":{"type":"line","strokeWidth":1.6},"encoding":{"y":{"field":"du","type":"quantitative"},"color":{"datum":"Upper bound"}}},
{"mark":{"type":"line","strokeWidth":1,"point":{"size":8,"filled":true}},"encoding":{"y":{"field":"dp","type":"quantitative"},"color":{"datum":"GSRpred"}}},
{"mark":{"type":"line","strokeWidth":0.8,"point":{"shape":"cross","size":18,"filled":true}},"encoding":{"y":{"field":"g","type":"quantitative"},"color":{"datum":"GSRact"}}},
{"data":{"values":[{"lab":"d) ETR","x":399,"y":3.2}]},"mark":{"type":"text","font":"Liberation Serif","fontWeight":"bold","fontSize":16,"align":"right","baseline":"middle","color":"#222"},"encoding":{"x":{"field":"x","type":"quantitative"},"y":{"field":"y","type":"quantitative"},"text":{"field":"lab"}}}
]}
],"spacing":145},
{"hconcat":[
{"width":527,"height":162,"data":{"name":"t"},
"encoding":{"x":{"field":"d","type":"quantitative","scale":{"domain":[0,400],"nice":false},"axis":{"values":[0,50,100,150,200,250,300,350,400],"title":"Number of Prediction Days","titlePadding":14}}},
"layer":[
{"mark":{"type":"area","color":"#c9f7c9"},"encoding":{"y":{"field":"el","type":"quantitative","scale":{"domain":[0,32],"nice":false},"axis":{"values":[0,10,20,30],"title":["GSR","(MJm⁻²day⁻¹)"],"titleFontStyle":"italic","titlePadding":4,"titleLineHeight":21}},"y2":{"field":"eu"}}},
{"mark":{"type":"line","strokeWidth":1.6},"encoding":{"y":{"field":"el","type":"quantitative"},"color":{"datum":"Lower bound"}}},
{"mark":{"type":"line","strokeWidth":1.6},"encoding":{"y":{"field":"eu","type":"quantitative"},"color":{"datum":"Upper bound"}}},
{"mark":{"type":"line","strokeWidth":1,"point":{"size":8,"filled":true}},"encoding":{"y":{"field":"ep","type":"quantitative"},"color":{"datum":"GSRpred"}}},
{"mark":{"type":"line","strokeWidth":0.8,"point":{"shape":"cross","size":18,"filled":true}},"encoding":{"y":{"field":"g","type":"quantitative"},"color":{"datum":"GSRact"}}},
{"data":{"values":[{"lab":"e) GBM","x":395,"y":3}]},"mark":{"type":"text","font":"Liberation Serif","fontWeight":"bold","fontSize":16,"align":"right","baseline":"middle","color":"#222"},"encoding":{"x":{"field":"x","type":"quantitative"},"y":{"field":"y","type":"quantitative"},"text":{"field":"lab"}}}
]},
{"width":527,"height":162,"data":{"name":"t"},
"encoding":{"x":{"field":"d","type":"quantitative","scale":{"domain":[0,400],"nice":false},"axis":{"values":[0,50,100,150,200,250,300,350,400],"title":"Number of Prediction Days","titlePadding":14}}},
"layer":[
{"mark":{"type":"area","color":"#c9f7c9"},"encoding":{"y":{"field":"fl","type":"quantitative","scale":{"domain":[0,32],"nice":false},"axis":{"values":[0,10,20,30],"title":null}},"y2":{"field":"fu"}}},
{"mark":{"type":"line","strokeWidth":1.6},"encoding":{"y":{"field":"fl","type":"quantitative"},"color":{"datum":"Lower bound"}}},
{"mark":{"type":"line","strokeWidth":1.6},"encoding":{"y":{"field":"fu","type":"quantitative"},"color":{"datum":"Upper bound"}}},
{"mark":{"type":"line","strokeWidth":1,"point":{"size":8,"filled":true}},"encoding":{"y":{"field":"fp","type":"quantitative"},"color":{"datum":"GSRpred"}}},
{"mark":{"type":"line","strokeWidth":0.8,"point":{"shape":"cross","size":18,"filled":true}},"encoding":{"y":{"field":"g","type":"quantitative"},"color":{"datum":"GSRact"}}},
{"data":{"values":[{"lab":"f) RFR","x":400,"y":3}]},"mark":{"type":"text","font":"Liberation Serif","fontWeight":"bold","fontSize":16,"align":"right","baseline":"middle","color":"#222"},"encoding":{"x":{"field":"x","type":"quantitative"},"y":{"field":"y","type":"quantitative"},"text":{"field":"lab"}}}
]}
],"spacing":145}
]
}
